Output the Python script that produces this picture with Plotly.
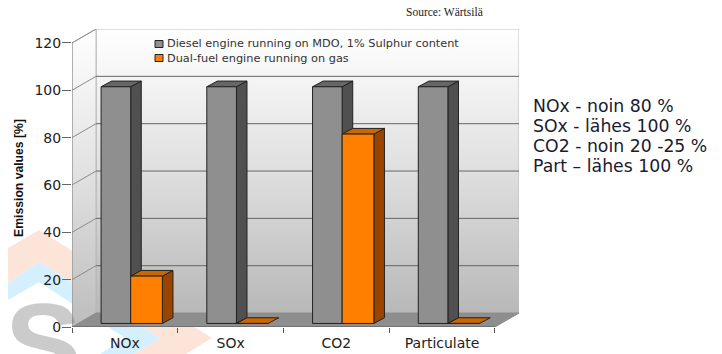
import plotly.graph_objects as go

# ---- data ----
categories = ["NOx", "SOx", "CO2", "Particulate"]
diesel_values = [100, 100, 100, 100]
dual_fuel_values = [20, 0, 80, 0]
y_ticks = [0, 20, 40, 60, 80, 100, 120]
series_names = ["Diesel engine running on MDO, 1% Sulphur content", "Dual-fuel engine running on gas"]
notes = ["NOx - noin 80 %", "SOx - lähes 100 %", "CO2 - noin 20 -25 %", "Part – lähes 100 %"]

# ---- layout constants ----
W, H = 722, 354
L, R, T, B = 72, 519, 29, 327
ROOM_DX, ROOM_DY = 0.2275, 5.9     # depth of the room, in axis units
BAR_DX, BAR_DY = 0.1, 2.4          # depth of a bar, in axis units
BAR_BASE = 1.5
GREY_OFF, GREY_W = 0.275, 0.28
ORANGE_W = 0.30
n = len(categories)
x_max = n + ROOM_DX
y_max = y_ticks[-1] + ROOM_DY

GREY = dict(face="#8f8f8f", side="#505050", top="#666666")
ORANGE = dict(face="#ff8000", side="#994500", top="#cc6600")


def pap_x(x):
    return (x - L) / (R - L)


def pap_y(y):
    return (B - y) / (B - T)


fig = go.Figure()


def poly(xs, ys, color, z, line="#222222", lw=1, **kw):
    fig.add_trace(go.Scatter(
        x=xs + xs[:1], y=ys + ys[:1], mode="lines", fill="toself", fillcolor=color,
        line=dict(color=line, width=lw), hoverinfo="skip", showlegend=False,
        cliponaxis=False, zorder=z, **kw))


def seg(xs, ys, color, z, lw=1):
    fig.add_trace(go.Scatter(
        x=xs, y=ys, mode="lines", line=dict(color=color, width=lw), hoverinfo="skip",
        showlegend=False, cliponaxis=False, zorder=z))


wall_grad = dict(type="vertical", colorscale=[[0, "#b8b8b8"], [0.5, "#dfdfdf"], [0.85, "#f6f6f6"], [1, "#ffffff"]])
side_grad = dict(type="vertical", colorscale=[[0, "#bdbdbd"], [0.5, "#e0e0e0"], [0.85, "#f6f6f6"], [1, "#ffffff"]])

# back wall
poly([ROOM_DX, x_max, x_max, ROOM_DX], [ROOM_DY, ROOM_DY, y_max, y_max], "#dddddd", 0,
     line="#bdbdbd", fillgradient=wall_grad)
# side wall
poly([0, ROOM_DX, ROOM_DX, 0], [0, ROOM_DY, y_max, y_ticks[-1]], "#dddddd", 0,
     line="#b5b5b5", fillgradient=side_grad)

# grid on the walls
for t in y_ticks[1:-1]:
    seg([ROOM_DX, x_max], [t + ROOM_DY, t + ROOM_DY], "#666666", 1)
for t in y_ticks[1:]:
    seg([0, ROOM_DX], [t, t + ROOM_DY], "#8a8a8a", 1)
# y axis line
seg([0, 0], [0, y_ticks[-1]], "#8a8a8a", 1)

# floor
poly([0, n, x_max, ROOM_DX], [0, 0, ROOM_DY, ROOM_DY], "#8e8e8e", 2, line="#8e8e8e")
seg([0, n], [0, 0], "#555555", 2)

# bars
xpos = list(range(n))


def bar_depth(x_left, width, values, colors, z):
    for x0, v in zip(x_left, values):
        x1 = x0 + width
        if v > 0:
            poly([x1, x1 + BAR_DX, x1 + BAR_DX, x1],
                 [BAR_BASE, BAR_BASE + BAR_DY, BAR_BASE + v + BAR_DY, BAR_BASE + v],
                 colors["side"], z)
        poly([x0, x1, x1 + BAR_DX, x0 + BAR_DX],
             [BAR_BASE + v, BAR_BASE + v, BAR_BASE + v + BAR_DY, BAR_BASE + v + BAR_DY],
             colors["top"], z)


bar_depth([x + GREY_OFF for x in xpos], GREY_W, diesel_values, GREY, 3)
fig.add_trace(go.Bar(
    x=xpos, y=diesel_values, base=BAR_BASE, width=GREY_W, offset=GREY_OFF,
    marker=dict(color=GREY["face"], line=dict(color="#222222", width=1)),
    name=series_names[0], showlegend=False, zorder=4))
bar_depth([x + GREY_OFF + GREY_W for x in xpos], ORANGE_W, dual_fuel_values, ORANGE, 5)
fig.add_trace(go.Bar(
    x=xpos, y=dual_fuel_values, base=BAR_BASE, width=ORANGE_W, offset=GREY_OFF + GREY_W,
    marker=dict(color=ORANGE["face"], line=dict(color="#222222", width=1)),
    name=series_names[1], showlegend=False, zorder=6))

shapes = []
# watermark logo behind everything
wm_peach = [(8, 248), (39, 230), (212, 338), (186, 354), (134, 354), (160, 338), (39, 262), (8, 283)]
wm_blue = [(8, 283), (39, 262), (160, 338), (134, 354), (100, 354), (125, 338), (39, 282), (8, 300)]
for pts, col in ((wm_peach, "#fde4d9"), (wm_blue, "#d4effd")):
    path = "M" + " L".join(f"{pap_x(a):.4f},{pap_y(b):.4f}" for a, b in pts) + " Z"
    shapes.append(dict(type="path", path=path, xref="paper", yref="paper", fillcolor=col,
                       line=dict(width=0), layer="below"))

# legend swatches
for yy, col in ((44, GREY["face"]), (58, ORANGE["face"])):
    shapes.append(dict(type="rect", xref="paper", yref="paper",
                       x0=pap_x(155), x1=pap_x(163), y0=pap_y(yy + 3.5), y1=pap_y(yy - 3.5),
                       fillcolor=col, line=dict(color="#222222", width=1), layer="above"))

annotations = []


def text(x, y, s, size, family="DejaVu Sans", color="#222222", xanchor="left"):
    annotations.append(dict(x=pap_x(x), y=pap_y(y), xref="paper", yref="paper", text=s,
                            showarrow=False, xanchor=xanchor, yanchor="middle",
                            font=dict(size=size, family=family, color=color),
                            borderpad=0))


# translucent so the "0" tick label shows through the watermark letter
text(4, 344, "<b>S</b>", 115, family="Liberation Sans", color="rgba(130,130,130,0.42)")
for yy, s in zip((44, 58), series_names):
    text(166, yy, s, 11.3, color="#333333")
for yy, s in zip((106, 126, 146, 166), notes):
    text(532, yy, s, 17.3, color="#1b1b2e")
text(405, 12, "Source: Wärtsilä", 11.5, family="Liberation Serif", color="#222222")

fig.update_layout(
    width=W, height=H, autosize=False,
    margin=dict(l=L, r=W - R, t=T, b=H - B, pad=0, autoexpand=False),
    paper_bgcolor="white", plot_bgcolor="rgba(0,0,0,0)",
    barmode="overlay", showlegend=False,
    shapes=shapes, annotations=annotations,
    xaxis=dict(range=[0, x_max], automargin=False, tickmode="array",
               tickvals=[x + 0.5 for x in xpos], ticktext=categories, ticks="", ticklabelstandoff=6,
               tickfont=dict(family="DejaVu Sans", size=14, color="#222222"),
               showgrid=False, zeroline=False, showline=False,
               minor=dict(tickmode="array", tickvals=list(range(n + 1)), ticks="outside",
                          ticklen=5, tickcolor="#555555", tickwidth=1, showgrid=False)),
    yaxis=dict(range=[0, y_max], automargin=False, tickmode="array", tickvals=y_ticks, ticks="outside", ticklen=9,
               ticklabelstandoff=-2,
               tickcolor="#666666", tickfont=dict(family="DejaVu Sans", size=14, color="#222222"),
               showgrid=False, zeroline=False, showline=False,
               title=dict(text="<b>Emission values [%]</b>", standoff=8,
                          font=dict(family="Liberation Sans", size=12.2, color="#111111"))),
)

fig.write_html("out.html", config=dict(displayModeBar=False),
               post_script="document.body.style.margin='0';")
